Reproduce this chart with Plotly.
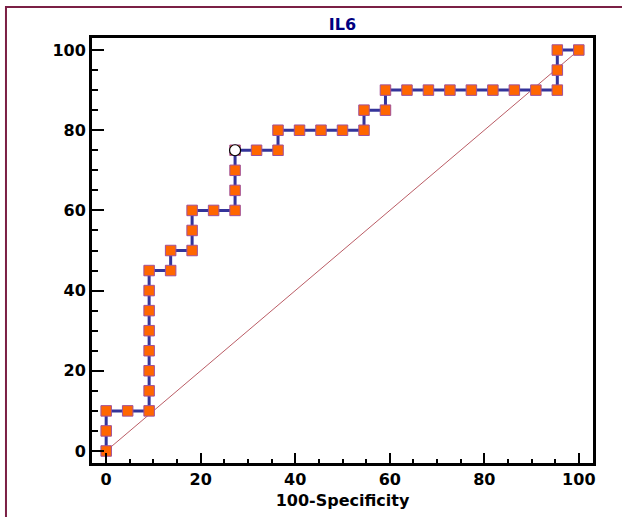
import plotly.graph_objects as go

# ROC curve points (100-Specificity, Sensitivity)
fpr = [0, 0, 0, 4.55, 9.09, 9.09, 9.09, 9.09, 9.09, 9.09, 9.09, 9.09,
       13.64, 13.64, 18.18, 18.18, 18.18, 22.73, 27.27, 27.27, 27.27, 27.27,
       31.82, 36.36, 36.36, 40.91, 45.45, 50, 54.55, 54.55, 59.09, 59.09,
       63.64, 68.18, 72.73, 77.27, 81.82, 86.36, 90.91, 95.45, 95.45, 95.45, 100]
tpr = [0, 5, 10, 10, 10, 15, 20, 25, 30, 35, 40, 45,
       45, 50, 50, 55, 60, 60, 60, 65, 70, 75,
       75, 75, 80, 80, 80, 80, 80, 85, 85, 90,
       90, 90, 90, 90, 90, 90, 90, 90, 95, 100, 100]
diag_x = [0, 100]
diag_y = [0, 100]
cutoff_x = [27.27]
cutoff_y = [75]
tick_vals = [0, 20, 40, 60, 80, 100]

font_family = "DejaVu Sans"

fig = go.Figure()
fig.add_trace(go.Scatter(x=diag_x, y=diag_y, mode="lines",
                         line=dict(color="#a8323e", width=0.8),
                         hoverinfo="skip", showlegend=False))
fig.add_trace(go.Scatter(x=fpr, y=tpr, mode="lines+markers",
                         line=dict(color="#34349a", width=3),
                         marker=dict(symbol="square", size=10.5, color="#ff6600",
                                     line=dict(color="#a0509a", width=1)),
                         showlegend=False))
fig.add_trace(go.Scatter(x=cutoff_x, y=cutoff_y, mode="markers",
                         marker=dict(symbol="circle", size=11, color="white",
                                     line=dict(color="black", width=1.2)),
                         showlegend=False))

axis_common = dict(
    showgrid=False, zeroline=False, showline=True, linecolor="black",
    linewidth=3, mirror=True, tickvals=tick_vals, ticks="inside",
    tickcolor="black", tickwidth=2, automargin=False,
    tickfont=dict(family=font_family, size=16, color="black", weight="bold"),
)

fig.update_xaxes(range=[-3, 103], ticklen=10,
                 minor=dict(dtick=5, tick0=0, ticks="inside", ticklen=4,
                            tickwidth=2, tickcolor="black"),
                 title=dict(text="100-Specificity", standoff=7,
                            font=dict(family=font_family, size=16, color="black",
                                      weight="bold")),
                 **axis_common)
fig.update_yaxes(range=[-3, 103], ticklen=12,
                 minor=dict(dtick=5, tick0=0, ticks="inside", ticklen=6,
                            tickwidth=2, tickcolor="black"),
                 **axis_common)

fig.add_shape(type="rect", xref="paper", yref="paper",
              x0=-0.1717, x1=1.08, y0=-0.16, y1=1.0729,
              line=dict(color="#7b2045", width=2), fillcolor="rgba(0,0,0,0)",
              layer="below")

fig.update_layout(
    width=622, height=517,
    margin=dict(l=92, r=29, t=38, b=54),
    paper_bgcolor="white", plot_bgcolor="white",
    title=dict(text="IL6", x=0.5, xref="paper", y=1 - 24 / 517, yanchor="middle",
               font=dict(family=font_family, size=16, color="#000080", weight="bold")),
)

fig.write_html("out.html", config={"displayModeBar": False},
               post_script="document.body.style.margin='0px';")
